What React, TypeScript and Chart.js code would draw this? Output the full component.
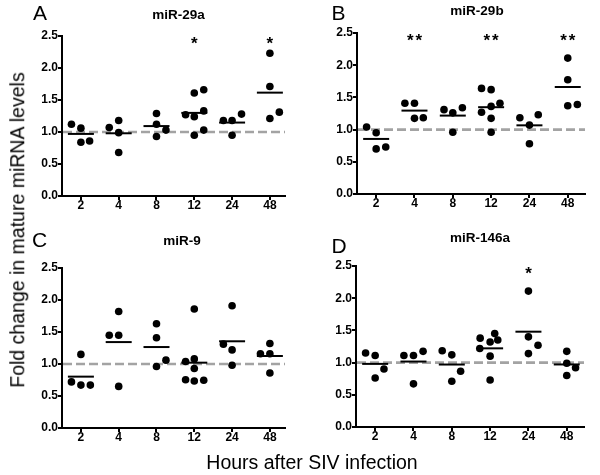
import React, { useEffect, useRef } from 'react';
import { Chart, registerables } from 'chart.js';

Chart.register(...registerables);

const FONT = '"Liberation Sans", Arial, Helvetica, sans-serif';

// Category labels (hours after infection)
const hours = ['2', '4', '8', '12', '24', '48'];

// Panel A: miR-29a
const miR29aValues = [
  [1.12, 1.06, 0.84, 0.86],
  [1.07, 1.18, 0.99, 0.68],
  [1.29, 1.12, 0.93, 1.03],
  [1.27, 1.24, 1.61, 1.66, 1.33, 1.03, 0.95],
  [1.18, 1.18, 0.95, 1.28],
  [2.23, 1.71, 1.21, 1.31],
];
const miR29aJitter = [
  [-0.25, 0, 0, 0.23],
  [-0.25, 0, 0, 0],
  [0, 0, 0, 0.25],
  [-0.23, 0, 0, 0.25, 0.25, 0.25, 0],
  [-0.23, 0, 0, 0.25],
  [0, 0, 0, 0.25],
];
const miR29aStars = ['', '', '', '*', '', '*'];

// Panel B: miR-29b
const miR29bValues = [
  [1.04, 0.95, 0.7, 0.73],
  [1.41, 1.41, 1.175, 1.185],
  [1.31, 1.26, 0.96, 1.34],
  [1.64, 1.62, 1.36, 1.175, 0.96, 1.27, 1.41],
  [1.185, 1.07, 0.78, 1.23],
  [2.11, 1.775, 1.37, 1.39],
];
const miR29bJitter = [
  [-0.25, 0, 0, 0.25],
  [-0.25, 0, 0, 0.23],
  [-0.23, 0, 0, 0.25],
  [-0.25, 0, 0, 0, 0, -0.25, 0.23],
  [-0.25, 0, 0, 0.23],
  [0, 0, 0, 0.25],
];
const miR29bStars = ['', '**', '', '**', '', '**'];

// Panel C: miR-9
const miR9Values = [
  [0.72, 1.15, 0.67, 0.67],
  [1.45, 1.45, 1.82, 0.65],
  [1.63, 1.41, 0.96, 1.06],
  [1.86, 1.04, 1.08, 0.93, 0.755, 0.735, 0.745],
  [1.91, 1.31, 1.22, 0.98],
  [1.16, 1.32, 1.16, 0.86],
];
const miR9Jitter = [
  [-0.25, 0, 0, 0.25],
  [-0.25, 0, 0, 0],
  [0, 0, 0, 0.25],
  [0, -0.23, 0, 0, -0.23, 0, 0.25],
  [0, -0.23, 0, 0],
  [-0.25, 0, 0, 0],
];
const miR9Stars = ['', '', '', '', '', ''];

// Panel D: miR-146a
const miR146aValues = [
  [1.15, 1.11, 0.76, 0.9],
  [1.11, 1.11, 0.67, 1.175],
  [1.185, 1.12, 0.71, 0.865],
  [1.38, 1.45, 1.32, 1.35, 1.22, 1.1, 0.73],
  [2.11, 1.4, 1.27, 1.14],
  [1.175, 0.99, 0.8, 0.92],
];
const miR146aJitter = [
  [-0.25, 0, 0, 0.23],
  [-0.25, 0, 0, 0.25],
  [-0.25, 0, 0, 0.23],
  [-0.26, 0.12, 0, 0.2, -0.27, 0, 0],
  [0, 0, 0.25, 0],
  [0, 0, 0, 0.23],
];
const miR146aStars = ['', '', '', '', '*', ''];

const yTicks = [0, 0.5, 1, 1.5, 2, 2.5];
const referenceLevel = 1.0;

type PanelProps = {
  values: number[][];
  jitter: number[][];
  stars: string[];
  plotLeft: number;
  plotTop: number;
  plotBottom: number;
  spacing: number;
  xMax: number;
};

const Y_AXIS_W = 34;
const PAD_TOP = 30;
const PAD_RIGHT = 2;
const X_AXIS_H = 20;
const PAD_BOTTOM = 6;

function Panel({ values, jitter, stars, plotLeft, plotTop, plotBottom, spacing, xMax }: PanelProps) {
  const ref = useRef<HTMLCanvasElement>(null);
  const left = plotLeft - Y_AXIS_W;
  const top = plotTop - PAD_TOP;
  const plotRight = plotLeft + (xMax - 0.5) * spacing;
  const width = Math.round(plotRight + PAD_RIGHT - left);
  const height = Math.round(plotBottom + X_AXIS_H + PAD_BOTTOM - top);

  useEffect(() => {
    const points = values.flatMap((g, i) => g.map((v, j) => ({ x: i + 1 + jitter[i][j], y: v })));
    const means = values.map((g, i) => ({ x: i + 1, y: g.reduce((a, b) => a + b, 0) / g.length }));

    const refLine = {
      id: 'refLine',
      beforeDatasetsDraw(chart: any) {
        const { ctx, chartArea, scales } = chart;
        const y = scales.y.getPixelForValue(referenceLevel);
        ctx.save();
        ctx.strokeStyle = '#a3a3a3';
        ctx.lineWidth = 2.6;
        ctx.setLineDash([9, 4]);
        ctx.beginPath();
        ctx.moveTo(chartArea.left + 1, y);
        ctx.lineTo(chartArea.right, y);
        ctx.stroke();
        ctx.restore();
      },
    };
    const starPlugin = {
      id: 'stars',
      afterDatasetsDraw(chart: any) {
        const { ctx, chartArea, scales } = chart;
        ctx.save();
        ctx.fillStyle = '#000';
        ctx.font = `bold 17px ${FONT}`;
        ctx.textAlign = 'center';
        ctx.textBaseline = 'alphabetic';
        stars.forEach((s, i) => {
          if (!s) return;
          const cx = scales.x.getPixelForValue(i + 1);
          const n = s.length;
          for (let k = 0; k < n; k++) {
            ctx.fillText('*', cx + (k - (n - 1) / 2) * 8.5, chartArea.top + 12.5);
          }
        });
        ctx.restore();
      },
    };

    const tickFont = { family: FONT, size: 12, weight: 'bold' as const };
    const chart = new Chart(ref.current!, {
      type: 'scatter',
      data: {
        datasets: [
          {
            data: means,
            pointStyle: 'line',
            pointRadius: 13,
            pointBorderWidth: 2,
            pointBorderColor: '#000',
            pointBackgroundColor: '#000',
          },
          {
            data: points,
            pointRadius: 3.8,
            pointBorderWidth: 0,
            pointBackgroundColor: '#000',
            pointBorderColor: '#000',
          },
        ],
      },
      options: {
        responsive: false,
        animation: false,
        events: [],
        layout: { padding: { left: 0, top: PAD_TOP, right: PAD_RIGHT, bottom: PAD_BOTTOM } },
        plugins: { legend: { display: false }, tooltip: { enabled: false } },
        scales: {
          x: {
            type: 'linear',
            min: 0.5,
            max: xMax,
            afterBuildTicks: (s: any) => {
              s.ticks = hours.map((_, i) => ({ value: i + 1 }));
            },
            afterFit: (s: any) => {
              s.height = X_AXIS_H;
            },
            ticks: {
              callback: (v: any) => hours[Math.round(Number(v)) - 1],
              font: tickFont,
              color: '#000',
              padding: -2,
              maxRotation: 0,
              autoSkip: false,
            },
            grid: { drawOnChartArea: false, drawTicks: true, tickLength: 4, color: '#000', lineWidth: 2 },
            border: { display: true, color: '#000', width: 2 },
          },
          y: {
            type: 'linear',
            min: 0,
            max: 2.5,
            afterBuildTicks: (s: any) => {
              s.ticks = yTicks.map((v) => ({ value: v }));
            },
            afterFit: (s: any) => {
              s.width = Y_AXIS_W;
            },
            ticks: {
              callback: (v: any) => Number(v).toFixed(1),
              font: tickFont,
              color: '#000',
              padding: 0,
            },
            grid: { drawOnChartArea: false, drawTicks: true, tickLength: 4, color: '#000', lineWidth: 2 },
            border: { display: true, color: '#000', width: 2 },
          },
        },
      },
      plugins: [refLine, starPlugin],
    } as any);
    return () => chart.destroy();
  }, []);

  return (
    <canvas
      ref={ref}
      width={width}
      height={height}
      style={{ position: 'absolute', left, top, width, height }}
    />
  );
}

function Label({ text, x, baseline, size, bold, center }: { text: string; x: number; baseline: number; size: number; bold?: boolean; center?: boolean }) {
  return (
    <div
      style={{
        position: 'absolute',
        left: x,
        top: baseline - 0.8465 * size,
        fontFamily: FONT,
        fontSize: size,
        lineHeight: `${size}px`,
        fontWeight: bold ? 'bold' : 'normal',
        whiteSpace: 'nowrap',
        transform: center ? 'translateX(-50%)' : undefined,
        color: '#000',
      }}
    >
      {text}
    </div>
  );
}

export default function App() {
  return (
    <div
      style={{
        position: 'absolute',
        left: 0,
        top: 0,
        width: 600,
        height: 475,
        overflow: 'hidden',
        background: '#fff',
      }}
    >
      <Panel values={miR29aValues} jitter={miR29aJitter} stars={miR29aStars} plotLeft={62} plotTop={36} plotBottom={196} spacing={40} xMax={6.4} />
      <Panel values={miR29bValues} jitter={miR29bJitter} stars={miR29bStars} plotLeft={357} plotTop={33} plotBottom={193.5} spacing={40.5} xMax={6.45} />
      <Panel values={miR9Values} jitter={miR9Jitter} stars={miR9Stars} plotLeft={62} plotTop={268} plotBottom={428} spacing={40} xMax={6.4} />
      <Panel values={miR146aValues} jitter={miR146aJitter} stars={miR146aStars} plotLeft={356} plotTop={266} plotBottom={427} spacing={40.5} xMax={6.45} />

      <Label text="A" x={33} baseline={20} size={21} />
      <Label text="B" x={331.5} baseline={20} size={21} />
      <Label text="C" x={32} baseline={247} size={21} />
      <Label text="D" x={331.5} baseline={253} size={21} />

      <Label text="miR-29a" x={178.5} baseline={19} size={13.5} bold center />
      <Label text="miR-29b" x={477} baseline={15} size={13.5} bold center />
      <Label text="miR-9" x={182} baseline={245} size={13.5} bold center />
      <Label text="miR-146a" x={480} baseline={242} size={13.5} bold center />

      <Label text="Hours after SIV infection" x={312} baseline={470} size={19.5} center />
      <div
        style={{
          position: 'absolute',
          left: 18.3,
          top: 230,
          fontFamily: FONT,
          fontSize: 19.5,
          lineHeight: '19.5px',
          whiteSpace: 'nowrap',
          color: '#000',
          transform: 'translate(-50%, -50%) rotate(-90deg)',
        }}
      >
        Fold change in mature miRNA levels
      </div>
    </div>
  );
}
